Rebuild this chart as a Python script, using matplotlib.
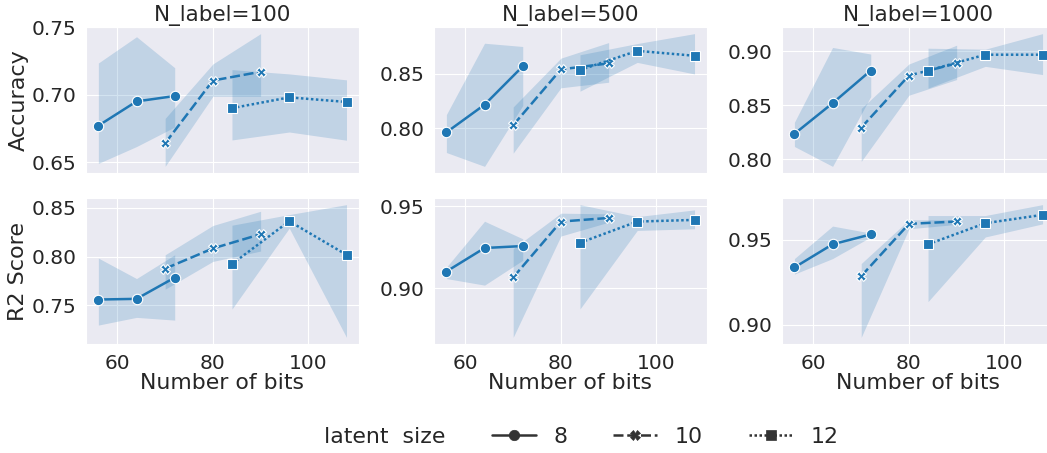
import matplotlib
matplotlib.use("Agg")
import matplotlib.pyplot as plt
import numpy as np
import seaborn as sns
from matplotlib.lines import Line2D
from matplotlib.ticker import MultipleLocator

sns.set_style("darkgrid")
plt.rcParams["font.family"] = ["DejaVu Sans"]

latent_sizes = [8, 10, 12]
bits = [[56, 64, 72], [70, 80, 90], [84, 96, 108]]
n_labels = [100, 500, 1000]

# Accuracy, rows = latent size 8/10/12
acc100_mean = [[0.677, 0.695, 0.699], [0.664, 0.7105, 0.717], [0.690, 0.698, 0.6946]]
acc100_lo = [[0.649, 0.6615, 0.676], [0.6468, 0.6988, 0.6988], [0.6664, 0.6723, 0.6662]]
acc100_hi = [[0.7235, 0.743, 0.720], [0.6824, 0.7228, 0.7453], [0.7186, 0.7154, 0.711]]

acc500_mean = [[0.7964, 0.8218, 0.857], [0.803, 0.8542, 0.8597], [0.8536, 0.8712, 0.8667]]
acc500_lo = [[0.7779, 0.7652, 0.821], [0.7773, 0.8373, 0.8424], [0.8342, 0.8606, 0.850]]
acc500_hi = [[0.8127, 0.8782, 0.8752], [0.8197, 0.8645, 0.8788], [0.8676, 0.8779, 0.887]]

acc1000_mean = [[0.8237, 0.8521, 0.8823], [0.8295, 0.8777, 0.889], [0.8823, 0.897, 0.897]]
acc1000_lo = [[0.812, 0.7936, 0.8583], [0.7982, 0.8595, 0.874], [0.866, 0.8862, 0.8786]]
acc1000_hi = [[0.8344, 0.9037, 0.8976], [0.8472, 0.8884, 0.9058], [0.903, 0.9021, 0.9165]]

# R2 score
r2_100_mean = [[0.7561, 0.7568, 0.7786], [0.7878, 0.8085, 0.8231], [0.7925, 0.8364, 0.802]]
r2_100_lo = [[0.7299, 0.7378, 0.735], [0.7667, 0.7952, 0.8058], [0.7463, 0.8293, 0.7173]]
r2_100_hi = [[0.7986, 0.7776, 0.802], [0.802, 0.832, 0.8466], [0.8323, 0.8432, 0.8534]]

r2_500_mean = [[0.9103, 0.9246, 0.9258], [0.9067, 0.9407, 0.9429], [0.9278, 0.9407, 0.9417]]
r2_500_lo = [[0.906, 0.902, 0.9171], [0.8702, 0.9319, 0.9403], [0.8875, 0.9353, 0.9363]]
r2_500_hi = [[0.9129, 0.9409, 0.9302], [0.9242, 0.9458, 0.9454], [0.951, 0.9437, 0.9478]]

r2_1000_mean = [[0.9337, 0.9473, 0.9531], [0.9286, 0.9593, 0.9607], [0.9473, 0.9597, 0.9646]]
r2_1000_lo = [[0.9298, 0.9389, 0.9516], [0.8926, 0.9564, 0.959], [0.9136, 0.9516, 0.9593]]
r2_1000_hi = [[0.9389, 0.958, 0.9539], [0.936, 0.9617, 0.9617], [0.9642, 0.9642, 0.9706]]

panels = [
    [(acc100_mean, acc100_lo, acc100_hi), (acc500_mean, acc500_lo, acc500_hi),
     (acc1000_mean, acc1000_lo, acc1000_hi)],
    [(r2_100_mean, r2_100_lo, r2_100_hi), (r2_500_mean, r2_500_lo, r2_500_hi),
     (r2_1000_mean, r2_1000_lo, r2_1000_hi)],
]
row_labels = ["Accuracy", "R2 Score"]

color = "#1f77b4"
markers = ["o", "X", "s"]
msizes = [7.5, 6.5, 7]
dashes = [(None, None), (4, 1.5), (1, 1)]

fig = plt.figure(figsize=(10.47, 4.53), dpi=100)
lefts = [0.0821, 0.4145, 0.7469]
bottoms = [0.6181, 0.2406]
w, h = 0.2607, 0.3223

axes = []
for r in range(2):
    for c in range(3):
        ax = fig.add_axes([lefts[c], bottoms[r], w, h], sharex=axes[0] if axes else None)
        mean, lo, hi = panels[r][c]
        for i in range(3):
            x = bits[i]
            ax.fill_between(x, lo[i], hi[i], color=color, alpha=0.2, linewidth=0)
            ln, = ax.plot(x, mean[i], color=color, marker=markers[i], ms=msizes[i],
                          lw=1.8, mec="white", mew=0.8)
            if i > 0:
                ln.set_dashes(dashes[i])
        ax.yaxis.set_major_locator(MultipleLocator(0.05))
        ax.xaxis.set_major_locator(MultipleLocator(20))
        ax.tick_params(labelsize=14.5)
        if r == 0:
            ax.set_title(f"N_label={n_labels[c]}", fontsize=15.5, pad=4)
            ax.tick_params(labelbottom=False)
        else:
            ax.set_xlabel("Number of bits", fontsize=15.8, labelpad=0)
        if c == 0:
            ax.set_ylabel(row_labels[r], fontsize=16, labelpad=2)
        axes.append(ax)

# legend
handles = [Line2D([], [], linestyle="none", marker="")]
labels = ["latent  size"]
for i, ls in enumerate(latent_sizes):
    hd = Line2D([], [], color=".2", marker=markers[i], ms=msizes[i], lw=1.8,
                mec=".2", mew=0.5)
    if i > 0:
        hd.set_dashes(dashes[i])
    handles.append(hd)
    labels.append(str(ls))
fig.legend(handles, labels, loc="center", bbox_to_anchor=(0.526, 0.035), ncol=4,
           frameon=False, fontsize=15.8, handlelength=2.0, columnspacing=2.1,
           handletextpad=0.8)

fig.savefig("out.png", dpi=100)
